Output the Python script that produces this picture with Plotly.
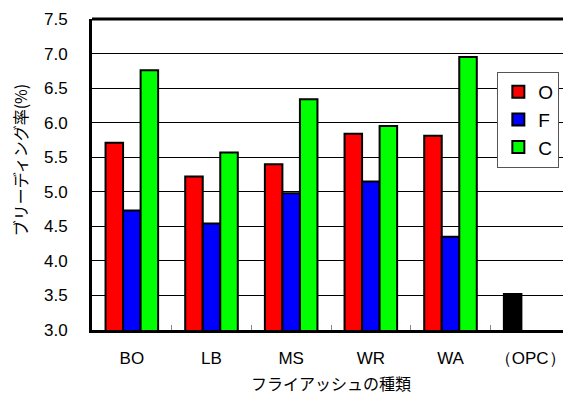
import plotly.graph_objects as go

categories = ["BO", "LB", "MS", "WR", "WA", "（OPC）"]
series_names = ["O", "F", "C"]
values_O = [5.71, 5.22, 5.40, 5.84, 5.81, 3.52]
values_F = [4.73, 4.54, 4.98, 5.15, 4.35, None]
values_C = [6.76, 5.57, 6.34, 5.95, 6.95, None]
colors = ["#FF0000", "#0000FF", "#00FF00"]
opc_color = "#000000"
y_ticks = [3.0, 3.5, 4.0, 4.5, 5.0, 5.5, 6.0, 6.5, 7.0, 7.5]

fig = go.Figure()
o_colors = [colors[0]] * (len(categories) - 1) + [opc_color]
for name, vals, col in zip(series_names, [values_O, values_F, values_C],
                           [o_colors, colors[1], colors[2]]):
    fig.add_trace(go.Bar(
        x=categories, y=vals, name=name,
        marker=dict(color=col, line=dict(color="black", width=2)),
    ))

tick_font = dict(family="Liberation Sans, Arial, sans-serif", size=17, color="black")
jp_font = dict(family="Noto Sans CJK JP, sans-serif", size=16, color="black")

# page body has an 8px margin, so the figure is sized to fit the remaining window
fig.update_layout(
    width=563, height=386,
    margin=dict(l=84, r=1, t=11, b=64, autoexpand=False),
    plot_bgcolor="white", paper_bgcolor="white",
    barmode="group", bargap=0.34, bargroupgap=0,
    showlegend=True,
    legend=dict(
        x=0.848, y=0.83, xanchor="left", yanchor="top",
        bgcolor="white", bordercolor="#555555", borderwidth=1,
        font=dict(family="Liberation Sans, Arial, sans-serif", size=19, color="black"),
        tracegroupgap=4, itemwidth=30,
    ),
    xaxis=dict(
        showline=True, linecolor="black", linewidth=3, mirror=False,
        ticks="inside", ticklen=5, tickcolor="#888888", tickson="boundaries",
        tickfont=tick_font, tickangle=0, ticklabelstandoff=11, automargin=False,
        showgrid=False,
    ),
    yaxis=dict(
        range=[3.0, 7.5], tickvals=y_ticks, ticktext=[f"{v:.1f}" for v in y_ticks],
        showline=True, linecolor="black", linewidth=3, mirror=False,
        showgrid=True, gridcolor="black", gridwidth=1,
        tickfont=tick_font, ticklabelstandoff=18, ticks="", automargin=False,
        zeroline=False,
    ),
    annotations=[
        dict(text="ブリーディング率(%)", x=-0.15, xref="paper", y=0.547, yref="paper",
             xanchor="center", yanchor="middle", textangle=-90, showarrow=False,
             font=dict(family="Noto Sans CJK JP, sans-serif", size=16, color="black")),
        dict(text="フライアッシュの種類", x=0.5, xref="paper", y=-0.127, yref="paper",
             xanchor="center", yanchor="top", showarrow=False, font=jp_font),
    ],
    shapes=[
        dict(type="line", xref="paper", yref="paper", x0=0, x1=1, y0=1, y1=1,
             line=dict(color="black", width=3)),
        dict(type="line", xref="paper", yref="paper", x0=1, x1=1, y0=0, y1=1,
             line=dict(color="#BBBBBB", width=1)),
    ],
)

fig.write_html("out.html")
